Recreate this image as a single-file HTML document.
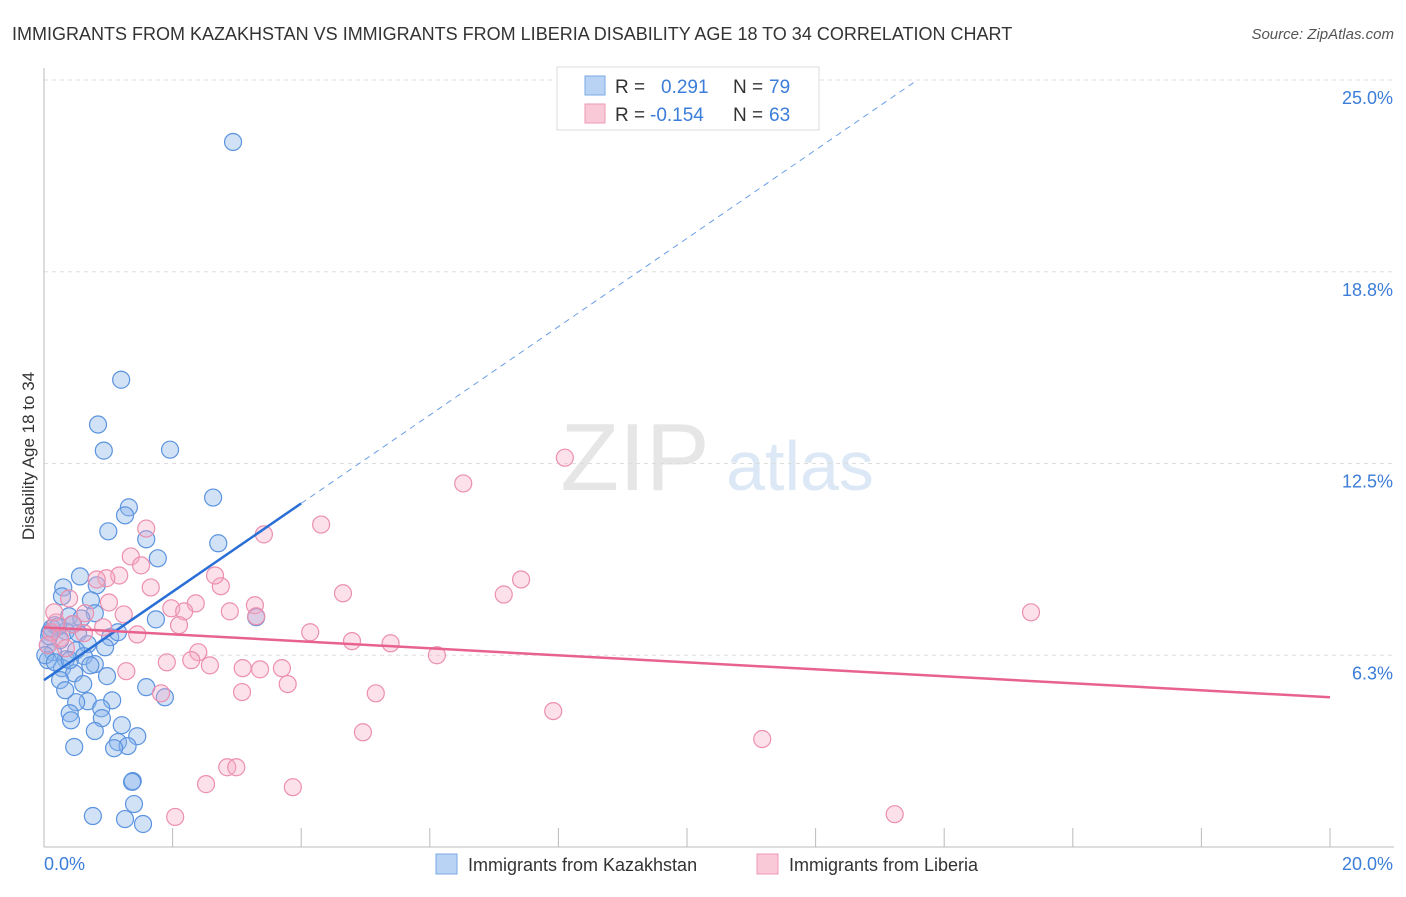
<!DOCTYPE html>
<html><head><meta charset="utf-8"><style>
body{margin:0;background:#fff;font-family:"Liberation Sans",sans-serif}
svg text{font-family:"Liberation Sans",sans-serif}
</style></head><body>
<svg id="chart" width="1406" height="892">
<text x="12" y="40" font-size="18" fill="#333">IMMIGRANTS FROM KAZAKHSTAN VS IMMIGRANTS FROM LIBERIA DISABILITY AGE 18 TO 34 CORRELATION CHART</text>
<text x="1394" y="39" font-size="15" fill="#555" text-anchor="end" font-style="italic">Source: ZipAtlas.com</text>
<text x="34" y="456" font-size="17" fill="#333" text-anchor="middle" transform="rotate(-90 34 456)">Disability Age 18 to 34</text>
<g><text x="635" y="490" font-size="96" fill="#e6e6e6" text-anchor="middle" font-family="Liberation Serif">ZIP</text><text x="800" y="490" font-size="70" fill="#dce8f6" text-anchor="middle">atlas</text></g>
<g id="grid"></g><g id="axes"></g><g id="pts"></g><g id="lines"></g>
<g>
<rect x="557" y="67" width="262" height="63" fill="#fff" stroke="#ddd"/>
<rect x="585" y="76" width="20" height="19" fill="#b9d3f5" stroke="#7aa8e6"/>
<rect x="585" y="104" width="20" height="19" fill="#f9c9d8" stroke="#ef9ab6"/>
<text x="615" y="93" font-size="19" fill="#333">R =</text><text x="661" y="93" font-size="19" fill="#3b7dd8">0.291</text>
<text x="733" y="93" font-size="19" fill="#333">N =</text><text x="769" y="93" font-size="19" fill="#3b7dd8">79</text>
<text x="615" y="121" font-size="19" fill="#333">R =</text><text x="650" y="121" font-size="19" fill="#3b7dd8">-0.154</text>
<text x="733" y="121" font-size="19" fill="#333">N =</text><text x="769" y="121" font-size="19" fill="#3b7dd8">63</text>
</g>
<g>
<rect x="436" y="854" width="21" height="20" fill="#b9d3f5" stroke="#7aa8e6"/>
<text x="468" y="871" font-size="18" fill="#333">Immigrants from Kazakhstan</text>
<rect x="757" y="854" width="21" height="20" fill="#f9c9d8" stroke="#ef9ab6"/>
<text x="789" y="871" font-size="18" fill="#333">Immigrants from Liberia</text>
</g>
</svg>
<script>
const yTicks=[25,18.75,12.5,6.25];
const yTickLabels=["25.0%","18.8%","12.5%","6.3%"];
const xTicks=[0,2,4,6,8,10,12,14,16,18,20];
const xTickLabels=["0.0%","20.0%"];
const blueX=[2.94,1.20,0.84,0.93,1.96,2.63,1.32,1.26,1.00,1.59,2.71,1.77,0.56,0.30,0.82,0.28,0.73,0.39,3.30,1.74,0.79,0.17,0.34,0.09,0.53,1.03,1.15,0.25,0.06,0.95,0.68,0.50,0.14,0.06,0.34,0.62,0.79,0.28,0.47,0.72,0.98,0.61,0.25,1.59,1.88,0.68,0.50,1.06,0.89,0.40,0.42,0.90,1.21,0.79,1.45,1.15,1.30,1.09,0.47,1.38,1.37,1.40,0.76,1.26,1.54,0.12,0.22,0.02,0.17,0.08,0.40,0.33,0.58,0.45];
const blueY=[22.98,15.23,13.77,12.92,12.95,11.39,11.07,10.81,10.29,10.03,9.90,9.41,8.82,8.46,8.53,8.17,8.04,7.52,7.49,7.42,7.62,7.23,7.03,7.00,6.97,6.84,7.00,6.74,6.58,6.51,6.61,6.41,6.35,6.09,6.12,6.22,5.96,5.83,5.66,5.92,5.57,5.31,5.44,5.21,4.88,4.75,4.72,4.78,4.52,4.36,4.13,4.20,3.97,3.78,3.61,3.42,3.29,3.22,3.26,2.15,2.12,1.40,1.01,0.91,0.75,7.13,7.19,6.25,6.02,6.87,6.09,5.11,7.45,7.26];
const pinkX=[8.10,6.52,4.31,1.59,3.42,1.35,1.51,1.17,7.42,1.66,2.75,2.66,4.65,7.15,0.97,0.39,0.82,15.35,1.01,2.36,3.28,1.98,2.18,2.89,1.24,0.64,2.10,0.92,1.45,4.14,3.30,0.44,0.25,4.79,5.39,2.40,6.11,1.91,2.29,2.58,3.09,3.36,3.70,1.28,3.79,1.82,3.08,5.16,7.92,4.96,11.17,2.85,2.99,2.52,3.87,2.04,13.23,0.12,0.06,0.19,0.34,0.16,0.62];
const pinkY=[12.69,11.85,10.51,10.38,10.19,9.47,9.18,8.85,8.72,8.46,8.50,8.85,8.27,8.23,8.76,8.10,8.72,7.65,7.97,7.94,7.88,7.78,7.68,7.68,7.58,7.62,7.23,7.16,6.93,7.00,7.52,7.26,6.80,6.71,6.64,6.35,6.25,6.02,6.09,5.92,5.83,5.79,5.83,5.73,5.31,5.01,5.05,5.01,4.43,3.74,3.52,2.60,2.60,2.05,1.95,0.98,1.07,7.00,6.58,7.32,6.48,7.65,6.97];
const blueTrend=[5.44,1.44]; // intercept, slope
const pinkTrend=[7.16,-0.114];
const NS="http://www.w3.org/2000/svg";
const X=v=>44+v/20*1286, Y=v=>847-v/25*767;
function mk(p,t,a){const e=document.createElementNS(NS,t);for(const k in a)e.setAttribute(k,a[k]);p.appendChild(e);return e;}
const grid=document.getElementById('grid'),axes=document.getElementById('axes'),pts=document.getElementById('pts'),lines=document.getElementById('lines');
yTicks.forEach((t,i)=>{
 const g=mk(grid,'line',{x1:44,x2:1394,y1:Y(t),y2:Y(t),stroke:'#ddd','stroke-dasharray':'4,4'});
 
 
 const l=mk(axes,'text',{x:1393,y:Y(t)+24,'font-size':18,fill:'#3b7dd8','text-anchor':'end'});
 l.textContent=yTickLabels[i];
 
 
});
const ax=mk(axes,'line',{x1:44,x2:44,y1:68,y2:847,stroke:'#bbb'});


const bx=mk(axes,'line',{x1:44,x2:1394,y1:847,y2:847,stroke:'#bbb'});


xTicks.forEach(t=>{
 const k=mk(axes,'line',{x1:X(t),x2:X(t),y1:828,y2:847,stroke:'#bbb'});
 
 
});
const xl0=mk(axes,'text',{x:44,y:870,'font-size':18,fill:'#3b7dd8'});xl0.textContent=xTickLabels[0];


const xl1=mk(axes,'text',{x:1393,y:870,'font-size':18,fill:'#3b7dd8','text-anchor':'end'});xl1.textContent=xTickLabels[1];


blueX.forEach((v,i)=>{
 const c=mk(pts,'circle',{cx:X(v),cy:Y(blueY[i]),r:8.5,fill:'rgba(140,182,236,0.4)',stroke:'#5b93df','stroke-width':1.2});
 
 
});
pinkX.forEach((v,i)=>{
 const c=mk(pts,'circle',{cx:X(v),cy:Y(pinkY[i]),r:8.5,fill:'rgba(246,170,196,0.35)',stroke:'#ec8fae','stroke-width':1.2});
 
 
});
const bEnd=4, bDashEnd=(25-blueTrend[0])/blueTrend[1];
const b1=mk(lines,'line',{x1:X(0),y1:Y(blueTrend[0]),x2:X(bEnd),y2:Y(blueTrend[0]+blueTrend[1]*bEnd),stroke:'#2a6fd6','stroke-width':2.5});


const b2=mk(lines,'line',{x1:X(bEnd),y1:Y(blueTrend[0]+blueTrend[1]*bEnd),x2:X(bDashEnd),y2:Y(25),stroke:'#6a9ee6','stroke-width':1,'stroke-dasharray':'6,5'});


const p1=mk(lines,'line',{x1:X(0),y1:Y(pinkTrend[0]),x2:X(20),y2:Y(pinkTrend[0]+pinkTrend[1]*20),stroke:'#e8628f','stroke-width':2.5});


</script>
</body></html>
